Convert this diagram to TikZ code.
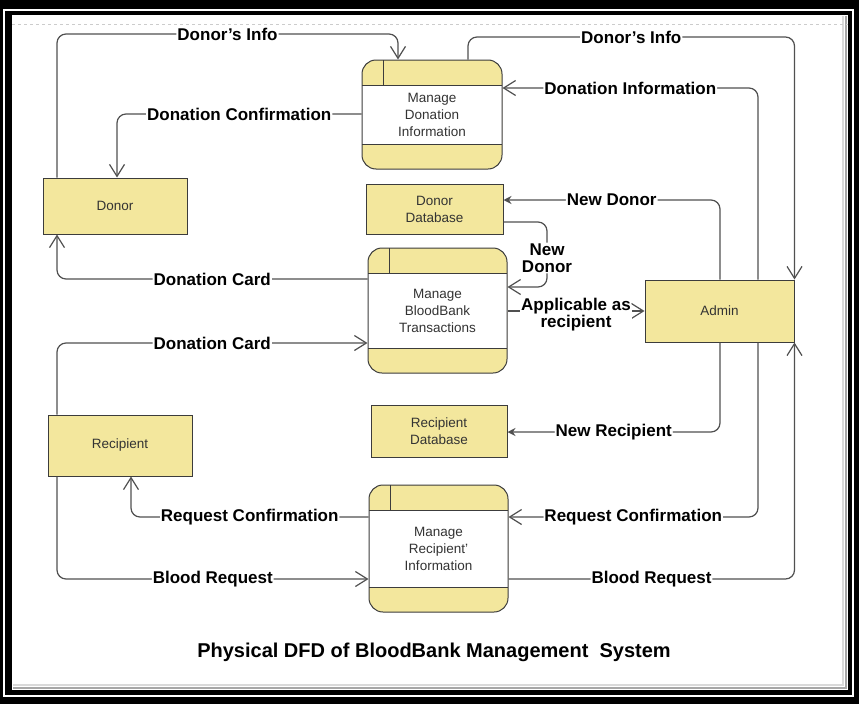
\documentclass[tikz,border=0pt]{standalone}
\usepackage{fontspec}
\setmainfont{Liberation Sans}
\usepackage{xcolor}
\usepackage{tikz}
\usetikzlibrary{positioning,calc,arrows.meta}
\definecolor{boxfill}{RGB}{243,231,157}
\definecolor{boxline}{RGB}{60,60,60}
\definecolor{flowline}{RGB}{80,80,80}

\begin{document}
\begin{tikzpicture}[x=1pt, y=-1pt,
        box/.style={draw=boxline, fill=boxfill, line width=1pt, inner sep=0pt, align=center, text=black!80, font=\fontsize{13.5}{17}\selectfont},
        proc/.style={box, rounded corners=14pt, minimum width=140pt, path picture={
            \fill[white, sharp corners] ([yshift=-25pt]path picture bounding box.north west) rectangle ([yshift=25pt]path picture bounding box.south east);
            \draw[boxline, line width=1pt, sharp corners] ([yshift=-25pt]path picture bounding box.north west) -- ([yshift=-25pt]path picture bounding box.north east)
                ([yshift=25pt]path picture bounding box.south west) -- ([yshift=25pt]path picture bounding box.south east)
                ([xshift=21pt]path picture bounding box.north west) -- ([xshift=21pt,yshift=-25pt]path picture bounding box.north west);}},
        flow/.style={draw=flowline, line width=1.2pt, rounded corners=9pt, -{Straight Barb[length=12pt,width=15pt]}},
        newflow/.style={flow, -{Stealth[length=8pt,width=8pt]}},
        lbl/.style={fill=white, inner sep=1pt, font=\bfseries\fontsize{17}{17}\selectfont}
    ]
        \useasboundingbox (0,0) rectangle (859,704);

        % Frame
        \fill[black] (0,0) rectangle (859,704);
        \draw[white, line width=1.5pt] (4,10) rectangle (853,696);
        \fill[white] (12,15) rectangle (848,690);
        \draw[black!35, line width=2pt] (846,16) -- (846,688) -- (13,688);
        \draw[black!15, line width=2pt] (843,16) -- (843,685) -- (13,685);
        \draw[black!20, dashed] (12,24) -- (848,24);

        % Entities and processes
        \node (donor) [box, minimum width=144pt, minimum height=56pt] at (115,206) {Donor};
        \node (mdi) [proc, minimum height=109pt] at (432,114.5) {Manage\\Donation\\Information};
        \node (ddb) [box, minimum width=137pt, minimum height=50pt] at (434.5,209) {Donor\\Database};
        \node (mbt) [proc, minimum width=139pt, minimum height=125pt] at (437.5,310.5) {Manage\\BloodBank\\Transactions};
        \node (rdb) [box, minimum width=136pt, minimum height=52pt] at (439,431) {Recipient\\Database};
        \node (admin) [box, minimum width=149pt, minimum height=62pt] at (719.5,311) {Admin};
        \node (rec) [box, minimum width=144pt, minimum height=61pt] at (120,445.5) {Recipient};
        \node (mri) [proc, minimum width=139pt, minimum height=127pt] at (438.5,548.5) {Manage\\Recipient'\\Information};

        % Donor side
        \draw [flow] (donor.north -| 57,0) |- node[lbl, pos=0.75] {Donor's Info} (398,34) -- (mdi.north -| 398,0);
        \draw [flow] (mdi.west |- 0,114) -| node[lbl, pos=0.25] {Donation Confirmation} (donor.north -| 117,0);
        \draw [flow] (mbt.west |- 0,279) -| node[lbl, pos=0.25] {Donation Card} (donor.south -| 57,0);

        % Admin side
        \draw [flow] (mdi.north -| 468,0) |- node[lbl, pos=0.75] {Donor's Info} (admin.north east |- 0,37) -- (admin.north east);
        \draw [flow] (admin.north -| 758,0) |- node[lbl, pos=0.75] {Donation Information} (mdi.east |- 0,88);
        \draw [newflow] (admin.north -| 720,0) |- node[lbl, pos=0.75] {New Donor} (ddb.east |- 0,200);
        \draw [flow] (ddb.east |- 0,222) -| (547,258) node[lbl, align=center] {New\\Donor} |- (mbt.east |- 0,287);
        \draw [flow] (mbt.east |- 0,311) -- node[lbl, align=center, yshift=-3.5pt] {Applicable as\\recipient} (admin.west |- 0,311);
        \draw [newflow] (admin.south -| 720,0) |- node[lbl, pos=0.75] {New Recipient} (rdb.east |- 0,432);
        \draw [flow] (admin.south -| 758,0) |- node[lbl, pos=0.75] {Request Confirmation} (mri.east |- 0,517);
        \draw [flow] (mri.east |- 0,579) -| node[lbl, pos=0.25] {Blood Request} (admin.south east);

        % Recipient side
        \draw [flow] (rec.north -| 57,0) |- node[lbl, pos=0.75] {Donation Card} (mbt.west |- 0,343);
        \draw [flow] (mri.west |- 0,517) -| node[lbl, pos=0.25] {Request Confirmation} (rec.south -| 131,0);
        \draw [flow] (rec.south -| 57,0) |- node[lbl, pos=0.75] {Blood Request} (mri.west |- 0,579);

        % Title
        \node (title) at (434,652) {\bfseries\fontsize{20}{24}\selectfont Physical DFD of BloodBank Management\ \ System};
    \end{tikzpicture}
\end{document}
